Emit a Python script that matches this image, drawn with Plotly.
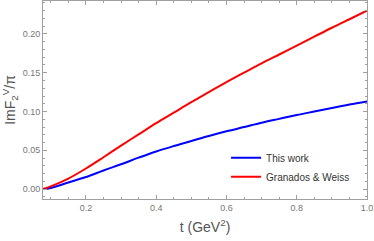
import plotly.graph_objects as go

t_vals = [0.0779, 0.1, 0.15, 0.2, 0.25, 0.3, 0.35, 0.4, 0.45, 0.5, 0.55, 0.6, 0.65, 0.7, 0.75, 0.8, 0.85, 0.9, 0.95, 1.0]
this_work = [0.0, 0.0015, 0.0085, 0.0155, 0.024, 0.032, 0.0405, 0.0485, 0.0555, 0.062, 0.0685, 0.0745,
             0.080, 0.0855, 0.0905, 0.0955, 0.100, 0.1045, 0.109, 0.113]
granados_weiss = [0.0, 0.0035, 0.0135, 0.0265, 0.041, 0.056, 0.0705, 0.085, 0.0985, 0.112, 0.125, 0.138,
                  0.150, 0.162, 0.1735, 0.185, 0.1965, 0.208, 0.219, 0.230]

x_ticks = [0.2, 0.4, 0.6, 0.8, 1.0]
x_tick_labels = ["0.2", "0.4", "0.6", "0.8", "1.0"]
y_ticks = [0.0, 0.05, 0.10, 0.15, 0.20]
y_tick_labels = ["0.00", "0.05", "0.10", "0.15", "0.20"]

fig = go.Figure()
fig.add_trace(go.Scatter(x=t_vals, y=this_work, mode="lines", name="This work",
                         line=dict(color="#0000ff", width=2, shape="spline", smoothing=1.0)))
fig.add_trace(go.Scatter(x=t_vals, y=granados_weiss, mode="lines", name="Granados & Weiss",
                         line=dict(color="#ff0000", width=2, shape="spline", smoothing=1.0)))

axis_common = dict(showline=True, linecolor="#a0a0a0", linewidth=1, mirror="allticks",
                   ticks="inside", ticklen=4, tickcolor="#a0a0a0", showgrid=False, zeroline=False,
                   automargin=False, ticklabeloverflow="allow",
                   tickfont=dict(family="Liberation Sans, Arial, sans-serif", size=9, color="#777777"))

fig.update_layout(
    width=374, height=241,
    margin=dict(l=43, r=7, t=1, b=42, autoexpand=False),
    paper_bgcolor="white", plot_bgcolor="white",
    font=dict(family="Liberation Sans, Arial, sans-serif"),
    xaxis=dict(range=[0.0779, 1.0], tickvals=x_ticks, ticktext=x_tick_labels,
               minor=dict(dtick=0.05, tick0=0.0, ticks="inside", ticklen=2, tickcolor="#a0a0a0"),
               title=dict(text="t (GeV<sup>2</sup>)", font=dict(size=14, color="#555555"), standoff=10),
               **axis_common),
    yaxis=dict(range=[-0.0128, 0.2425], tickvals=y_ticks, ticktext=y_tick_labels,
               minor=dict(dtick=0.01, tick0=0.0, ticks="inside", ticklen=2, tickcolor="#a0a0a0"),
               title=dict(text="ImF<sub>2</sub><sup>V</sup>/π", font=dict(size=14, color="#555555"), standoff=4),
               **axis_common),
    legend=dict(x=0.565, y=0.282, xanchor="left", yanchor="top", bgcolor="rgba(0,0,0,0)",
                font=dict(size=10, color="#333333"), itemwidth=30, tracegroupgap=0),
    showlegend=True,
)

fig.write_html("out.html", config={"displayModeBar": False},
               post_script="document.body.style.margin='0';document.body.style.overflow='hidden';")
